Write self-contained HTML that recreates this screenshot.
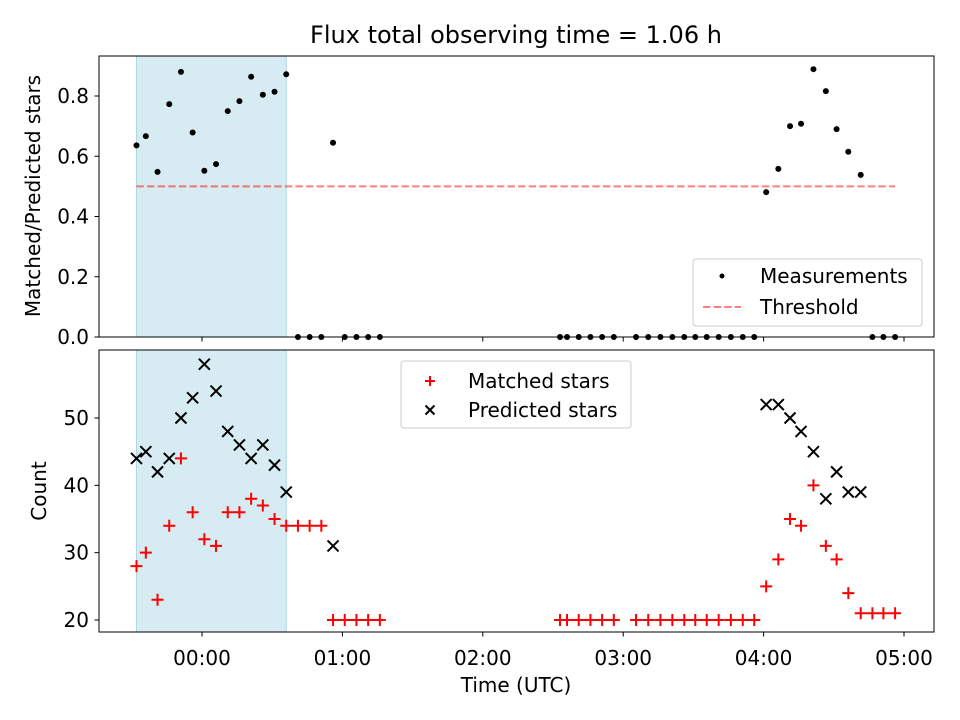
<!DOCTYPE html>
<html><head><meta charset="utf-8"><style>
body{margin:0;background:#fff;}
svg{display:block;font-family:"DejaVu Sans","Liberation Sans",sans-serif;}
</style></head><body>
<svg id="chart" width="960" height="720" viewBox="0 0 960 720" xmlns="http://www.w3.org/2000/svg">
<rect width="960" height="720" fill="#fff"/>
<text x="516" y="43" font-size="24" text-anchor="middle">Flux total observing time = 1.06 h</text>
<g id="topPanel"></g><g id="botPanel"></g>
<text transform="translate(40,196) rotate(-90)" font-size="20" text-anchor="middle">Matched/Predicted stars</text>
<text transform="translate(46,491) rotate(-90)" font-size="20" text-anchor="middle">Count</text>
<text x="516" y="692" font-size="20" text-anchor="middle">Time (UTC)</text>
</svg>
<script>
// time in minutes relative to 00:00 UTC
const times = [-28,-24,-19,-14,-9,-4,1,6,11,16,21,26,31,36,41,46,51,56,61,66,71,76,
  153,156,161,166,171,176,185.5,190.7,195.9,201,206.1,210.8,215.7,220.8,226,231.1,236,
  241.1,246.3,251.3,256,261.3,266.6,271.2,276.2,281.5,286.5,291.2,296.2];
const matched = [28,30,23,34,44,36,32,31,36,36,38,37,35,34,34,34,34,20,20,20,20,20,
  20,20,20,20,20,20,20,20,20,20,20,20,20,20,20,20,20,
  25,29,35,34,40,31,29,24,21,21,21,21];
const predicted = [44,45,42,44,50,53,58,54,48,46,44,46,43,39,null,null,null,31,null,null,null,null,
  null,null,null,null,null,null,null,null,null,null,null,null,null,null,null,null,null,
  52,52,50,48,45,38,42,39,39,null,null,null];
const ratio = [0.636,0.667,0.548,0.773,0.88,0.679,0.552,0.574,0.75,0.783,0.864,0.804,0.814,0.872,0,0,0,0.645,0,0,0,0,
  0,0,0,0,0,0,0,0,0,0,0,0,0,0,0,0,0,
  0.481,0.558,0.70,0.708,0.889,0.816,0.69,0.615,0.538,0,0,0];
const threshold = 0.5;
const shadeStart = -28, shadeEnd = 36;
const xTicks = [0,60,120,180,240,300];
const xTickLabels = ["00:00","01:00","02:00","03:00","04:00","05:00"];
const topTicks = [0,0.2,0.4,0.6,0.8];
const botTicks = [20,30,40,50];

const NS="http://www.w3.org/2000/svg";
const L=99,R=934,FS=20;
const X=m=>202+m*140.4/60;
const YT=v=>337-v*301.25;
const YB=v=>620-(v-20)*6.733;
function mk(tag,attrs,parent){const e=document.createElementNS(NS,tag);for(const k in attrs)e.setAttribute(k,attrs[k]);parent.appendChild(e);return e;}
const topG=document.getElementById('topPanel'), botG=document.getElementById('botPanel');

function panel(g,y0,y1,name){
  let r=mk('rect',{x:X(shadeStart),y:y0,width:X(shadeEnd)-X(shadeStart),height:y1-y0,fill:'#add8e6','fill-opacity':0.5,stroke:'#add8e6','stroke-width':1},g);
  
  
}
panel(topG,56,337,'top');
panel(botG,350,632,'bottom');

let th=mk('line',{x1:X(times[0]),x2:X(times[times.length-1]),y1:YT(threshold),y2:YT(threshold),stroke:'#ff0000','stroke-opacity':0.5,'stroke-width':2,'stroke-dasharray':'7.4,3.2'},topG);



times.forEach((t,i)=>{
  const c=mk('circle',{cx:X(t),cy:YT(ratio[i]),r:3,fill:'#000'},topG);
  
  
});
function plus(g,x,y,s,col,w){return mk('path',{d:`M${x-s},${y}H${x+s}M${x},${y-s}V${y+s}`,stroke:col,'stroke-width':w,fill:'none'},g);}
function cross(g,x,y,s,col,w){return mk('path',{d:`M${x-s},${y-s}L${x+s},${y+s}M${x-s},${y+s}L${x+s},${y-s}`,stroke:col,'stroke-width':w,fill:'none'},g);}
times.forEach((t,i)=>{
  const p=plus(botG,X(t),YB(matched[i]),6,'#ff0000',2);
  
  
  if(predicted[i]!==null){
    const c=cross(botG,X(t),YB(predicted[i]),5.5,'#000',2);
    
    
  }
});

[[56,337,'top',topG],[350,632,'bottom',botG]].forEach(([a,b,n,g])=>{
  const f=mk('rect',{x:L,y:a,width:R-L,height:b-a,fill:'none',stroke:'#000','stroke-width':1},g);
  
  
});
xTicks.forEach((m,i)=>{
  mk('line',{x1:X(m),x2:X(m),y1:337,y2:341.5,stroke:'#000'},topG);
  mk('line',{x1:X(m),x2:X(m),y1:632,y2:636.5,stroke:'#000'},botG);
  const t=mk('text',{x:X(m),y:665,'font-size':FS,'text-anchor':'middle'},botG);
  t.textContent=xTickLabels[i];
  
  
});
topTicks.forEach(v=>{
  mk('line',{x1:L-4.5,x2:L,y1:YT(v),y2:YT(v),stroke:'#000'},topG);
  const t=mk('text',{x:L-10,y:YT(v)+7,'font-size':FS,'text-anchor':'end'},topG);
  t.textContent=v.toFixed(1);
  
  
});
botTicks.forEach(v=>{
  mk('line',{x1:L-4.5,x2:L,y1:YB(v),y2:YB(v),stroke:'#000'},botG);
  const t=mk('text',{x:L-10,y:YB(v)+7,'font-size':FS,'text-anchor':'end'},botG);
  t.textContent=v;
  
  
});

let lg=mk('g',{},topG);


mk('rect',{x:693,y:259,width:229,height:67,rx:3,fill:'#fff','fill-opacity':0.8,stroke:'#ccc'},lg);
mk('circle',{cx:722,cy:276,r:2.5,fill:'#000'},lg);
mk('line',{x1:703,x2:741,y1:307,y2:307,stroke:'#ff0000','stroke-opacity':0.5,'stroke-width':2,'stroke-dasharray':'7.4,3.2'},lg);
let t1=mk('text',{x:760,y:283,'font-size':FS},lg);t1.textContent='Measurements';


let t2=mk('text',{x:760,y:314,'font-size':FS},lg);t2.textContent='Threshold';



let lb=mk('g',{},botG);


mk('rect',{x:401,y:361,width:230,height:67,rx:3,fill:'#fff','fill-opacity':0.8,stroke:'#ccc'},lb);
plus(lb,430,381,5,'#ff0000',2);
cross(lb,430,410,4.5,'#000',2);
let t3=mk('text',{x:468,y:388,'font-size':FS},lb);t3.textContent='Matched stars';


let t4=mk('text',{x:468,y:417,'font-size':FS},lb);t4.textContent='Predicted stars';


</script>
</body></html>
